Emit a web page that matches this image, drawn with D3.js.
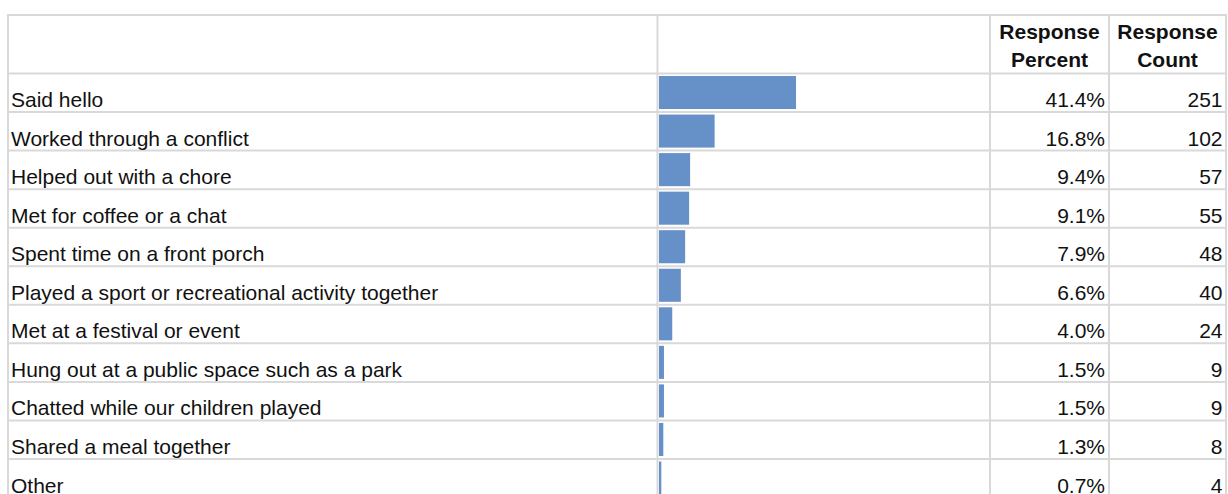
<!DOCTYPE html>
<html>
<head>
<meta charset="utf-8">
<script src="https://cdn.jsdelivr.net/npm/d3@7"></script>
<style>
  body { margin: 0; background: #fff; }
  svg text { font-family: "Liberation Sans", Arial, sans-serif; fill: #111; }
</style>
</head>
<body>
<div class="chart"></div>
<script>
var answers = [
  "Said hello",
  "Worked through a conflict",
  "Helped out with a chore",
  "Met for coffee or a chat",
  "Spent time on a front porch",
  "Played a sport or recreational activity together",
  "Met at a festival or event",
  "Hung out at a public space such as a park",
  "Chatted while our children played",
  "Shared a meal together",
  "Other"
];
var percents = [41.4, 16.8, 9.4, 9.1, 7.9, 6.6, 4.0, 1.5, 1.5, 1.3, 0.7];
var counts = [251, 102, 57, 55, 48, 40, 24, 9, 9, 8, 4];
var percentHeader = ["Response", "Percent"];
var countHeader = ["Response", "Count"];

var svgWidth = 1228;
var svgHeight = 494;

// table geometry
var tableTop = 15;
var headerBottom = 73.5;
var rowStep = 38.55;
var colLeft = 8;
var colBar = 657.5;
var colPct = 990;
var colCnt = 1109;
var colRight = 1226;

var svg = d3
  .select(".chart")
  .append("svg")
  .attr("width", svgWidth)
  .attr("height", svgHeight);

var rows = answers.map(function(a, i) {
  return { answer: a, percent: percents[i], count: counts[i] };
});

var yScale = d3.scaleBand()
  .domain(answers)
  .range([headerBottom, headerBottom + rowStep * answers.length])
  .padding(0);

var xScale = d3.scaleLinear()
  .domain([0, 100])
  .range([colBar + 1.5, colPct]);

var pctFormat = d3.format(".1f");

// grid lines
var grid = svg.append("g").attr("stroke", "#d9d9d9").attr("stroke-width", 2);

var hLines = [tableTop, headerBottom].concat(answers.map(function(a) {
  return yScale(a) + yScale.bandwidth();
}));

grid.selectAll(".h-line")
  .data(hLines)
  .enter()
  .append("line")
  .attr("class", "h-line")
  .attr("x1", colLeft - 1)
  .attr("x2", colRight + 1)
  .attr("y1", function(d) { return d; })
  .attr("y2", function(d) { return d; });

grid.selectAll(".v-line")
  .data([colLeft, colBar, colPct, colCnt, colRight])
  .enter()
  .append("line")
  .attr("class", "v-line")
  .attr("x1", function(d) { return d; })
  .attr("x2", function(d) { return d; })
  .attr("y1", tableTop - 1)
  .attr("y2", svgHeight + 10);

// header
function addHeader(lines, cx) {
  svg.append("text")
    .attr("x", cx)
    .attr("y", 39)
    .attr("text-anchor", "middle")
    .attr("font-size", "21px")
    .attr("font-weight", "bold")
    .selectAll("tspan")
    .data(lines)
    .enter()
    .append("tspan")
    .attr("x", cx)
    .attr("dy", function(d, i) { return i === 0 ? 0 : 28; })
    .text(function(d) { return d; });
}
addHeader(percentHeader, (colPct + colCnt) / 2);
addHeader(countHeader, (colCnt + colRight) / 2);

// bars
svg.selectAll(".bar")
  .data(rows)
  .enter()
  .append("rect")
  .attr("class", "bar")
  .attr("x", xScale(0))
  .attr("y", function(d) { return yScale(d.answer) + 2.5; })
  .attr("width", function(d) { return xScale(d.percent) - xScale(0); })
  .attr("height", yScale.bandwidth() - 5.5)
  .attr("fill", "#6690c8");

// labels and numbers
var baseline = function(d) { return yScale(d.answer) + yScale.bandwidth() - 5; };

svg.selectAll(".label")
  .data(rows)
  .enter()
  .append("text")
  .attr("class", "label")
  .attr("x", 11)
  .attr("y", baseline)
  .attr("font-size", "21px")
  .text(function(d) { return d.answer; });

svg.selectAll(".pct")
  .data(rows)
  .enter()
  .append("text")
  .attr("class", "pct")
  .attr("x", colPct + 115)
  .attr("y", baseline)
  .attr("text-anchor", "end")
  .attr("font-size", "21px")
  .text(function(d) { return pctFormat(d.percent) + "%"; });

svg.selectAll(".cnt")
  .data(rows)
  .enter()
  .append("text")
  .attr("class", "cnt")
  .attr("x", colRight - 3.5)
  .attr("y", baseline)
  .attr("text-anchor", "end")
  .attr("font-size", "21px")
  .text(function(d) { return d.count; });
</script>
</body>
</html>
